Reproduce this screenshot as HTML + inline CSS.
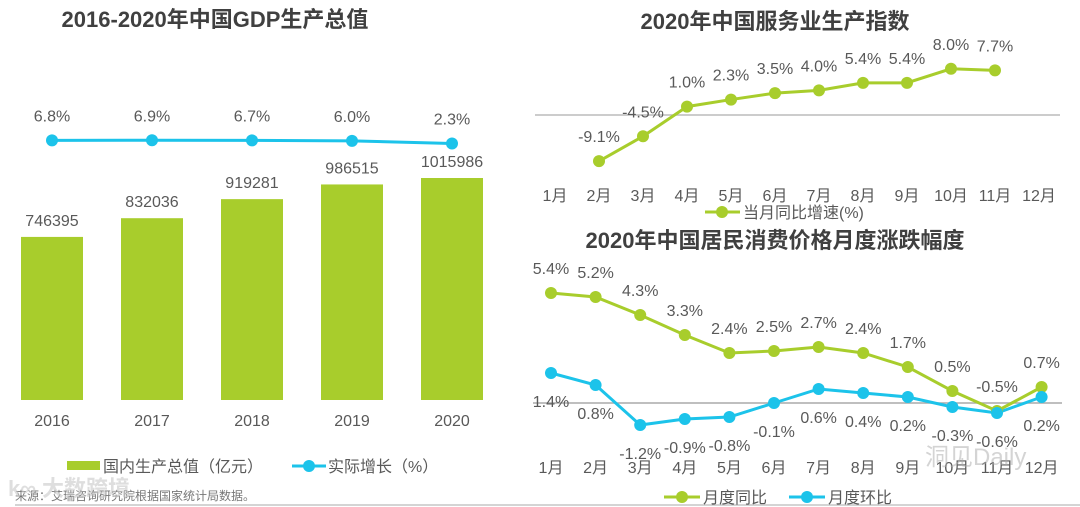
<!DOCTYPE html>
<html><head><meta charset="utf-8">
<style>
body{margin:0;background:#fff;width:1080px;height:507px;overflow:hidden;}
svg{display:block;font-family:"Liberation Sans","Noto Sans CJK SC",sans-serif;}
</style></head>
<body>
<svg id="s" width="1080" height="507" xmlns="http://www.w3.org/2000/svg"></svg>
<script>
const gdpYears=["2016","2017","2018","2019","2020"];
const gdpValues=[746395,832036,919281,986515,1015986];
const gdpGrowth=[6.8,6.9,6.7,6.0,2.3];
const months=["1月","2月","3月","4月","5月","6月","7月","7月","8月"].slice(0,0).concat(["1月","2月","3月","4月","5月","6月","7月","8月","9月","10月","11月","12月"]);
const svcMonthsIdx=[1,2,3,4,5,6,7,8,9,10];
const svcValues=[-9.1,-4.5,1.0,2.3,3.5,4.0,5.4,5.4,8.0,7.7];
const cpiYoY=[5.4,5.2,4.3,3.3,2.4,2.5,2.7,2.4,1.7,0.5,-0.5,0.7];
const cpiMoM=[1.4,0.8,-1.2,-0.9,-0.8,-0.1,0.6,0.4,0.2,-0.3,-0.6,0.2];

const G="#a8cd2c",B="#1cc3ea",T="#595959";
const s=document.getElementById('s');
function el(tag,attrs,parent){const e=document.createElementNS("http://www.w3.org/2000/svg",tag);for(const k in attrs)e.setAttribute(k,attrs[k]);(parent||s).appendChild(e);return e;}
function txt(x,y,t,size,fill,anchor,weight,parent){const e=el('text',{x:x,y:y,'font-size':size,fill:fill,'text-anchor':anchor||'middle','font-weight':weight||'normal'},parent);e.textContent=t;return e;}
function line(pts,color,name){const p=el('polyline',{points:pts.map(q=>q.join(',')).join(' '),fill:'none',stroke:color,'stroke-width':3});return p;}
function dot(x,y,color,name){const c=el('circle',{cx:x,cy:y,r:6,fill:color});return c;}

// ---- Left chart ----
let t=txt(215,27,"2016-2020年中国GDP生产总值",22,"#404040","middle","bold");

const bx=i=>52+i*100, by=v=>400-v*0.0002185, gy=v=>143.5-(v-2.3)*0.7;
gdpValues.forEach((v,i)=>{
  const r=el('rect',{x:bx(i)-31,y:by(v),width:62,height:400-by(v),fill:G});
  
  const l=txt(bx(i),by(v)-11,String(v),16,T);
  
  const y=txt(bx(i),426,gdpYears[i],16,T);
  
});
line(gdpGrowth.map((v,i)=>[bx(i),gy(v)]),B,'growth-line');
gdpGrowth.map((v,i)=>{dot(bx(i),gy(v),B,'growth-point');const l=txt(bx(i),gy(v)-19,v.toFixed(1)+"%",16,T);});
let lg=el('g',{});
el('rect',{x:67,y:461,width:33,height:9,fill:G},lg);
txt(103,472,"国内生产总值（亿元）",16,T,"start","normal",lg);
el('line',{x1:292,y1:466,x2:326,y2:466,stroke:B,'stroke-width':3},lg);
el('circle',{cx:309,cy:466,r:6,fill:B},lg);
txt(328,472,"实际增长（%）",16,T,"start","normal",lg);
t=txt(15,500,"来源：艾瑞咨询研究院根据国家统计局数据。",12,"#777","start");

t=txt(8,496,"k∞ 大数跨境",22,"rgba(200,200,200,0.6)","start","bold");

el('line',{x1:15,y1:505,x2:1080,y2:505,stroke:'#aaa','stroke-width':1});

// ---- Top right chart ----
t=txt(775,29,"2020年中国服务业生产指数",22,"#404040","middle","bold");

const mx=i=>555+i*44, sy=v=>112-v*5.4;
el('line',{x1:535,y1:115,x2:1060,y2:115,stroke:'#bbb','stroke-width':1.5});
months.forEach((m,i)=>{const l=txt(mx(i),201,m,16,T);});
line(svcValues.map((v,k)=>[mx(svcMonthsIdx[k]),sy(v)]),G,'service-line');
svcValues.forEach((v,k)=>{const x=mx(svcMonthsIdx[k]);dot(x,sy(v),G,'service-point');const l=txt(x,sy(v)-19,v.toFixed(1)+"%",16,T);});
lg=el('g',{});
el('line',{x1:705,y1:212,x2:740,y2:212,stroke:G,'stroke-width':3},lg);
el('circle',{cx:722,cy:212,r:6,fill:G},lg);
txt(743,218,"当月同比增速(%)",16,T,"start","normal",lg);

// ---- Bottom right chart ----
t=txt(775,248,"2020年中国居民消费价格月度涨跌幅度",22,"#404040","middle","bold");

const cx=i=>551+i*44.6, cy=v=>401-v*20;
el('line',{x1:533,y1:403,x2:1062,y2:403,stroke:'#aaa','stroke-width':1.5});
months.forEach((m,i)=>{const l=txt(cx(i),473,m,16,T);});
line(cpiYoY.map((v,i)=>[cx(i),cy(v)]),G,'cpi-yoy-line');
line(cpiMoM.map((v,i)=>[cx(i),cy(v)]),B,'cpi-mom-line');
cpiYoY.forEach((v,i)=>{dot(cx(i),cy(v),G,'cpi-yoy-point');const l=txt(cx(i),cy(v)-19,v.toFixed(1)+"%",16,T);});
cpiMoM.forEach((v,i)=>{dot(cx(i),cy(v),B,'cpi-mom-point');const l=txt(cx(i),cy(v)+34,v.toFixed(1)+"%",16,T);});
lg=el('g',{});
el('line',{x1:664,y1:497,x2:700,y2:497,stroke:G,'stroke-width':3},lg);
el('circle',{cx:682,cy:497,r:6,fill:G},lg);
txt(703,503,"月度同比",16,T,"start","normal",lg);
el('line',{x1:789,y1:497,x2:825,y2:497,stroke:B,'stroke-width':3},lg);
el('circle',{cx:807,cy:497,r:6,fill:B},lg);
txt(828,503,"月度环比",16,T,"start","normal",lg);
t=txt(925,465,"洞见Daily",24,"rgba(170,170,170,0.5)","start");

</script>
</body></html>
